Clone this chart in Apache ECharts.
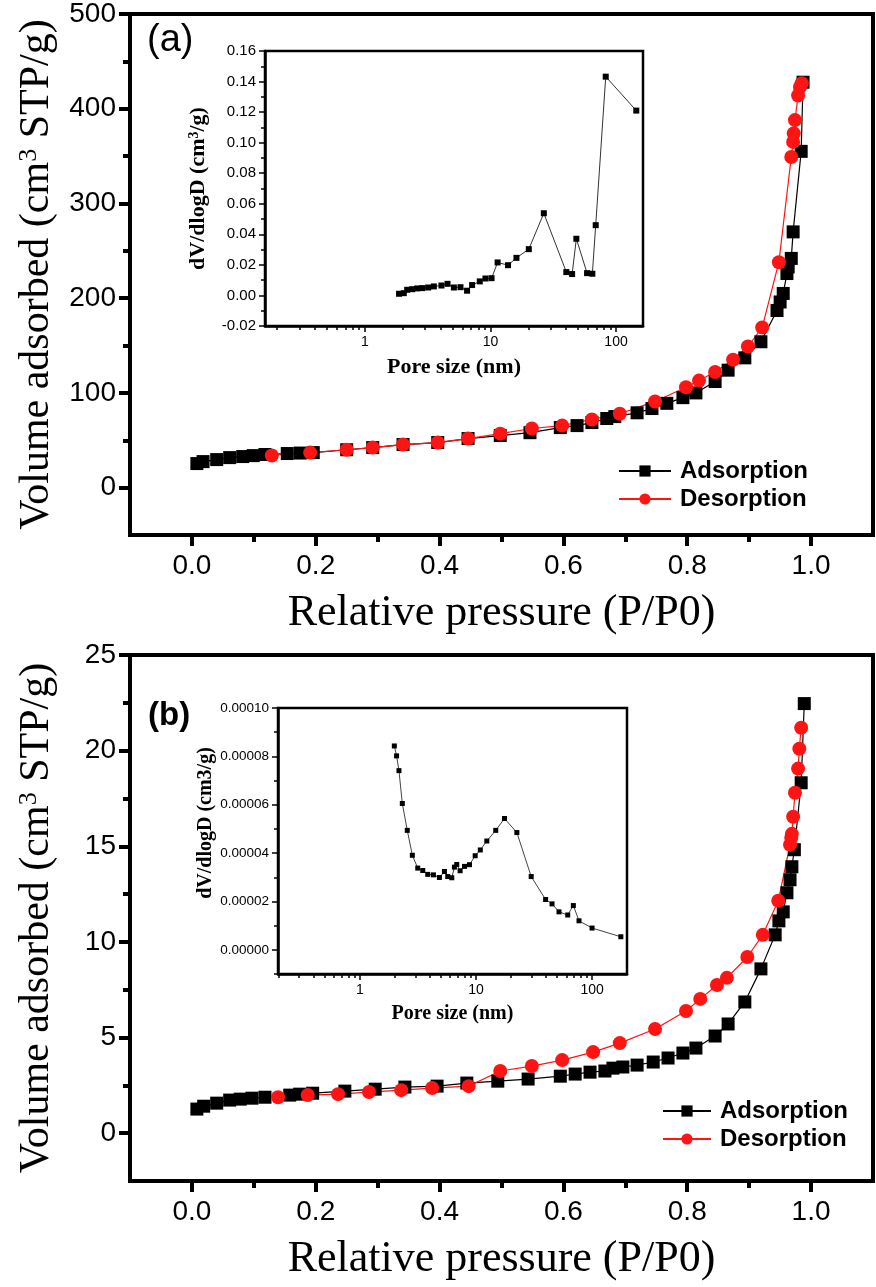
<!DOCTYPE html>
<html>
<head>
<meta charset="utf-8">
<title>Nitrogen isotherms (a) and (b)</title>
<script src="https://cdn.jsdelivr.net/npm/echarts@6/dist/echarts.min.js"></script>
<style>
  html, body { margin: 0; padding: 0; background: #fff; }
  #chart { width: 876px; height: 1287px; }
</style>
</head>
<body>
<div id="chart"></div>
<script>
// ---- data ----
// (a) isotherm
var adsA_p = [0.008, 0.018, 0.040, 0.061, 0.082, 0.099, 0.118, 0.154, 0.175, 0.196, 0.250, 0.292, 0.341, 0.397, 0.446, 0.498, 0.546, 0.595, 0.622, 0.646, 0.670, 0.683, 0.719, 0.743, 0.767, 0.793, 0.814, 0.845, 0.866, 0.893, 0.919, 0.945, 0.950, 0.955, 0.961, 0.963, 0.968, 0.971, 0.984, 0.987];
var adsA_v = [25.4, 27.5, 29.6, 31.7, 32.8, 33.8, 35, 36, 36.5, 37, 40, 42.3, 45.5, 47.6, 51.8, 55, 58, 63.4, 65.5, 68.7, 73, 75, 79, 83.5, 89, 95, 100, 112, 124, 137, 154, 187, 196, 205, 226, 233, 242, 270, 355, 428];
var desA_p = [0.129, 0.191, 0.250, 0.292, 0.341, 0.397, 0.446, 0.498, 0.549, 0.598, 0.646, 0.691, 0.748, 0.798, 0.819, 0.845, 0.874, 0.898, 0.921, 0.948, 0.968, 0.971, 0.972, 0.974, 0.979, 0.982, 0.985];
var desA_v = [34, 37, 40, 42.3, 45.5, 47.6, 51.8, 57, 62.4, 65.5, 72, 78, 91, 106, 113, 122, 135, 149, 169, 238, 349, 365, 374, 388, 414, 423, 427];
// (a) inset: pore size distribution
var poreA = [1.87, 2.04, 2.17, 2.38, 2.61, 2.86, 3.19, 3.54, 4.07, 4.55, 5.11, 5.77, 6.51, 7.14, 8.22, 9.12, 10.2, 11.4, 13.8, 16.1, 20.2, 26.6, 40.2, 44.7, 48.3, 58.8, 64.8, 68.9, 82.8, 145];
var dvA = [0.0011, 0.0015, 0.0037, 0.0041, 0.0046, 0.0048, 0.0052, 0.0059, 0.0065, 0.0076, 0.0052, 0.0054, 0.0031, 0.0068, 0.0092, 0.0111, 0.0113, 0.0216, 0.0198, 0.0246, 0.0303, 0.0538, 0.0153, 0.0140, 0.0371, 0.0146, 0.0142, 0.0460, 0.1432, 0.121];

// (b) isotherm
var adsB_p = [0.008, 0.019, 0.040, 0.061, 0.078, 0.097, 0.118, 0.158, 0.174, 0.195, 0.247, 0.296, 0.344, 0.396, 0.444, 0.494, 0.543, 0.595, 0.619, 0.643, 0.667, 0.680, 0.696, 0.719, 0.745, 0.769, 0.793, 0.814, 0.845, 0.866, 0.893, 0.919, 0.942, 0.948, 0.955, 0.961, 0.966, 0.969, 0.973, 0.984, 0.989];
var adsB_v = [1.26, 1.41, 1.57, 1.73, 1.78, 1.83, 1.88, 1.99, 2.04, 2.09, 2.2, 2.3, 2.41, 2.46, 2.62, 2.72, 2.83, 2.98, 3.09, 3.19, 3.25, 3.40, 3.46, 3.56, 3.72, 3.93, 4.19, 4.45, 5.08, 5.71, 6.86, 8.59, 10.37, 11.1, 11.57, 12.57, 13.25, 13.93, 14.82, 18.32, 22.46];
var desB_p = [0.139, 0.187, 0.236, 0.286, 0.338, 0.388, 0.447, 0.498, 0.549, 0.598, 0.648, 0.691, 0.748, 0.798, 0.821, 0.848, 0.864, 0.897, 0.922, 0.947, 0.966, 0.968, 0.969, 0.971, 0.974, 0.979, 0.981, 0.984];
var desB_v = [1.88, 1.99, 2.04, 2.15, 2.25, 2.36, 2.46, 3.25, 3.51, 3.82, 4.24, 4.71, 5.45, 6.39, 7.02, 7.75, 8.12, 9.21, 10.37, 12.15, 15.08, 15.45, 15.65, 16.54, 17.8, 19.06, 20.1, 21.2];
// (b) inset
var poreB = [1.98, 2.07, 2.17, 2.32, 2.56, 2.83, 3.15, 3.48, 3.84, 4.30, 4.84, 5.35, 5.71, 6.19, 6.52, 6.83, 7.30, 7.96, 8.79, 9.84, 10.9, 12.4, 14.8, 17.6, 22.5, 29.9, 39.8, 45.2, 51.9, 61.7, 69.0, 77.2, 100, 177];
var dvB = [8.43e-5, 8.02e-5, 7.41e-5, 6.05e-5, 4.94e-5, 3.91e-5, 3.38e-5, 3.28e-5, 3.12e-5, 3.10e-5, 2.99e-5, 3.24e-5, 3.03e-5, 2.98e-5, 3.42e-5, 3.53e-5, 3.27e-5, 3.45e-5, 3.52e-5, 3.89e-5, 4.13e-5, 4.50e-5, 4.94e-5, 5.43e-5, 4.85e-5, 3.03e-5, 2.08e-5, 1.90e-5, 1.57e-5, 1.44e-5, 1.83e-5, 1.20e-5, 9.0e-6, 5.4e-6];

// tick values
var pressureTicks = [0, 0.2, 0.4, 0.6, 0.8, 1.0];
var pressureMinor = [0.1, 0.3, 0.5, 0.7, 0.9];
var volTicksA = [0, 100, 200, 300, 400, 500];
var volMinorA = [50, 150, 250, 350, 450];
var volTicksB = [0, 5, 10, 15, 20, 25];
var volMinorB = [2.5, 7.5, 12.5, 17.5, 22.5];
var poreTicks = [1, 10, 100];
var poreMinor = [0.2, 0.3, 0.4, 0.5, 0.6, 0.7, 0.8, 0.9, 2, 3, 4, 5, 6, 7, 8, 9, 20, 30, 40, 50, 60, 70, 80, 90];
var dvTicksB = [0, 0.00002, 0.00004, 0.00006, 0.00008, 0.0001];
var dvMinorB = [-0.00001, 0.00001, 0.00003, 0.00005, 0.00007, 0.00009];

(function () {
  var SANS = "'Liberation Sans', Arial, sans-serif";
  var SERIF = "'Liberation Serif', 'Times New Roman', serif";
  var RED = '#ff1414';

  function pairs(xs, ys) {
    return xs.map(function (x, i) { return [x, ys[i]]; });
  }
  function logPairs(xs, ys) {
    return xs.map(function (x, i) { return [Math.log10(x), ys[i]]; });
  }
  function logs(arr) {
    return arr.map(function (v) { return Math.log10(v); });
  }

  // twin axis that only carries the short (minor) ticks
  function minorAxis(grid, pos, lo, hi, values, len, width) {
    return {
      type: 'value', gridIndex: grid, position: pos, min: lo, max: hi,
      axisLine: { show: false, onZero: false },
      axisTick: { show: true, customValues: values, length: len, lineStyle: { color: '#000', width: width } },
      axisLabel: { show: false },
      splitLine: { show: false }
    };
  }

  function mainX(grid) {
    return [{
      type: 'value', gridIndex: grid, position: 'bottom', min: -0.1, max: 1.1,
      name: 'Relative pressure (P/P0)', nameLocation: 'middle', nameGap: 56,
      nameTextStyle: { fontFamily: SERIF, fontSize: 44, color: '#000' },
      axisLine: { onZero: false, lineStyle: { color: '#000', width: 4 } },
      axisTick: { customValues: pressureTicks, length: 11, lineStyle: { color: '#000', width: 4 } },
      axisLabel: {
        customValues: pressureTicks, margin: 17, color: '#000', fontFamily: SANS, fontSize: 28,
        formatter: function (v) { return v.toFixed(1); }
      },
      splitLine: { show: false }
    }, minorAxis(grid, 'bottom', -0.1, 1.1, pressureMinor, 7, 4)];
  }

  function mainY(grid, lo, hi, major, minor) {
    return [{
      type: 'value', gridIndex: grid, position: 'left', min: lo, max: hi,
      name: 'Volume adsorbed (cm{sup|3} STP/g)', nameLocation: 'middle', nameGap: 72,
      nameTextStyle: {
        fontFamily: SERIF, fontSize: 42, color: '#000',
        rich: { sup: { fontFamily: SERIF, fontSize: 26, color: '#000', verticalAlign: 'top' } }
      },
      axisLine: { onZero: false, lineStyle: { color: '#000', width: 4 } },
      axisTick: { customValues: major, length: 11, lineStyle: { color: '#000', width: 4 } },
      axisLabel: { customValues: major, margin: 14, color: '#000', fontFamily: SANS, fontSize: 28 },
      splitLine: { show: false }
    }, minorAxis(grid, 'left', lo, hi, minor, 7, 4)];
  }

  // inset x axis is log10 of pore size on a value axis
  function insetX(grid, lo, hi, nameSize) {
    var a = Math.log10(lo), b = Math.log10(hi);
    return [{
      type: 'value', gridIndex: grid, position: 'bottom', min: a, max: b,
      name: 'Pore size (nm)', nameLocation: 'middle', nameGap: 30,
      nameTextStyle: { fontFamily: SERIF, fontWeight: 'bold', fontSize: nameSize, color: '#000' },
      axisLine: { onZero: false, lineStyle: { color: '#000', width: 2.5 } },
      axisTick: { customValues: logs(poreTicks), length: 6, lineStyle: { color: '#000', width: 1.5 } },
      axisLabel: {
        customValues: logs(poreTicks), margin: 9, color: '#000', fontFamily: SANS, fontSize: 14,
        formatter: function (v) { return String(Math.round(Math.pow(10, v))); }
      },
      splitLine: { show: false }
    }, minorAxis(grid, 'bottom', a, b, logs(poreMinor), 4, 1.5)];
  }

  var option = {
    animation: false,
    backgroundColor: '#fff',
    title: [
      { text: '(a)', left: 142, top: 17, textStyle: { fontFamily: SANS, fontSize: 38, fontWeight: 'normal', color: '#000' } },
      { text: '(b)', left: 143, top: 694, textStyle: { fontFamily: SANS, fontSize: 33, fontWeight: 'bold', color: '#000' } }
    ],
    legend: [
      {
        data: ['Adsorption', 'Desorption'], orient: 'vertical', left: 613, top: 454,
        itemWidth: 52, itemHeight: 14, itemGap: 4,
        textStyle: { fontFamily: SANS, fontSize: 24, fontWeight: 'bold', color: '#000', padding: [0, 0, 0, 4] }
      },
      {
        data: ['Adsorption', 'Desorption'], orient: 'vertical', left: 657, top: 1094,
        itemWidth: 48, itemHeight: 14, itemGap: 4,
        textStyle: { fontFamily: SANS, fontSize: 24, fontWeight: 'bold', color: '#000', padding: [0, 0, 0, 4] }
      }
    ],
    grid: [
      { left: 130, top: 14, width: 743, height: 521, show: true, borderColor: '#000', borderWidth: 4, outerBoundsMode: 'none' },
      { left: 265, top: 51, width: 378, height: 275, show: true, borderColor: '#000', borderWidth: 2.5, backgroundColor: '#fff', outerBoundsMode: 'none' },
      { left: 130, top: 655, width: 743, height: 526, show: true, borderColor: '#000', borderWidth: 4, outerBoundsMode: 'none' },
      { left: 278, top: 708, width: 349, height: 266, show: true, borderColor: '#000', borderWidth: 2.5, backgroundColor: '#fff', outerBoundsMode: 'none' }
    ],
    xAxis: [].concat(
      mainX(0),
      insetX(1, 0.16, 164, 22),
      mainX(2),
      insetX(3, 0.197, 200, 20)
    ),
    yAxis: [].concat(
      mainY(0, -50, 500, volTicksA, volMinorA),
      [{
        type: 'value', gridIndex: 1, position: 'left', min: -0.02, max: 0.16, interval: 0.02,
        name: 'dV/dlogD (cm{sup|3}/g)', nameLocation: 'middle', nameGap: 56,
        nameTextStyle: {
          fontFamily: SERIF, fontWeight: 'bold', fontSize: 22, color: '#000',
          rich: { sup: { fontFamily: SERIF, fontWeight: 'bold', fontSize: 14, color: '#000', verticalAlign: 'top' } }
        },
        axisLine: { onZero: false, lineStyle: { color: '#000', width: 2.5 } },
        axisTick: { length: 6, lineStyle: { color: '#000', width: 1.5 } },
        minorTick: { show: true, splitNumber: 2, length: 4, lineStyle: { color: '#000', width: 1.5 } },
        axisLabel: {
          margin: 9, color: '#000', fontFamily: SANS, fontSize: 15,
          formatter: function (v) { return v.toFixed(2); }
        },
        splitLine: { show: false }
      }, {
        type: 'value', gridIndex: 1, position: 'left', min: -0.02, max: 0.16, show: false
      }],
      mainY(2, -2.5, 25, volTicksB, volMinorB),
      [{
        type: 'value', gridIndex: 3, position: 'left', min: -0.00001, max: 0.0001,
        name: 'dV/dlogD (cm3/g)', nameLocation: 'middle', nameGap: 62,
        nameTextStyle: { fontFamily: SERIF, fontWeight: 'bold', fontSize: 20, color: '#000', padding: [0, 0, 0, 36] },
        axisLine: { onZero: false, lineStyle: { color: '#000', width: 2.5 } },
        axisTick: { customValues: dvTicksB, length: 6, lineStyle: { color: '#000', width: 1.5 } },
        axisLabel: {
          customValues: dvTicksB, margin: 9, color: '#000', fontFamily: SANS, fontSize: 13.5,
          formatter: function (v) { return v.toFixed(5); }
        },
        splitLine: { show: false }
      }, minorAxis(3, 'left', -0.00001, 0.0001, dvMinorB, 4, 1.5)]
    ),
    series: [
      {
        name: 'Adsorption', type: 'line', xAxisIndex: 0, yAxisIndex: 0,
        data: pairs(adsA_p, adsA_v), symbol: 'rect', symbolSize: 13, showAllSymbol: true,
        lineStyle: { color: '#000', width: 1.2 }, itemStyle: { color: '#000' }
      },
      {
        name: 'Desorption', type: 'line', xAxisIndex: 0, yAxisIndex: 0,
        data: pairs(desA_p, desA_v), symbol: 'circle', symbolSize: 14, showAllSymbol: true,
        lineStyle: { color: RED, width: 1.2 }, itemStyle: { color: RED }
      },
      {
        name: 'PSD a', type: 'line', xAxisIndex: 2, yAxisIndex: 2,
        data: logPairs(poreA, dvA), symbol: 'rect', symbolSize: 6, showAllSymbol: true,
        lineStyle: { color: '#333', width: 1 }, itemStyle: { color: '#000' }
      },
      {
        name: 'Adsorption', type: 'line', xAxisIndex: 4, yAxisIndex: 4,
        data: pairs(adsB_p, adsB_v), symbol: 'rect', symbolSize: 13, showAllSymbol: true,
        lineStyle: { color: '#000', width: 1.2 }, itemStyle: { color: '#000' }
      },
      {
        name: 'Desorption', type: 'line', xAxisIndex: 4, yAxisIndex: 4,
        data: pairs(desB_p, desB_v), symbol: 'circle', symbolSize: 14, showAllSymbol: true,
        lineStyle: { color: RED, width: 1.2 }, itemStyle: { color: RED }
      },
      {
        name: 'PSD b', type: 'line', xAxisIndex: 6, yAxisIndex: 6,
        data: logPairs(poreB, dvB), symbol: 'rect', symbolSize: 5, showAllSymbol: true,
        lineStyle: { color: '#444', width: 1 }, itemStyle: { color: '#000' }
      }
    ]
  };

  var chart = echarts.init(document.getElementById('chart'));
  chart.setOption(option);
  window.addEventListener('resize', function () { chart.resize(); });
})();
</script>
</body>
</html>
